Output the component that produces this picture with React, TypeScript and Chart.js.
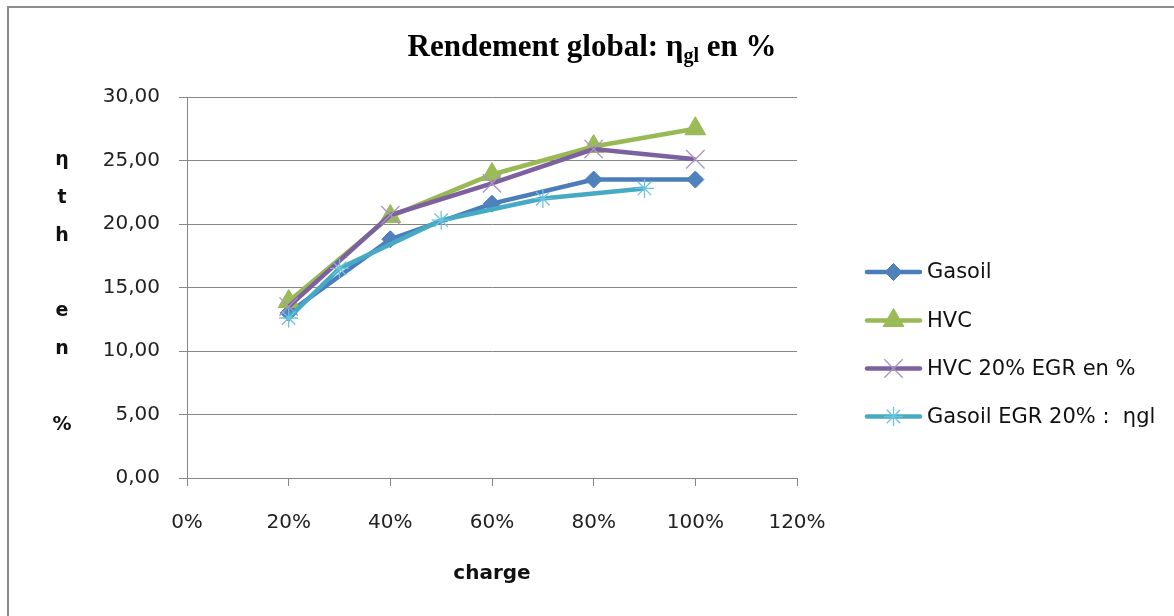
import React, { useEffect, useRef } from 'react';
import { Chart, registerables } from 'chart.js';

Chart.register(...registerables);

// ---- data ----
const chargeMain = [20, 40, 60, 80, 100];
const chargeEgr = [20, 30, 50, 70, 90];
const gasoil = [13.0, 18.8, 21.6, 23.5, 23.5];
const hvc = [13.9, 20.6, 23.9, 26.1, 27.5];
const hvcEgr = [13.5, 20.7, 23.2, 25.9, 25.1];
const gasoilEgr = [12.6, 16.5, 20.3, 22.0, 22.8];

const seriesNames = ['Gasoil', 'HVC', 'HVC 20% EGR en %', 'Gasoil EGR 20% :  ηgl'];
const lineColors = ['#4A7EBB', '#98B954', '#7D60A0', '#46AAC5'];
const markerFill = ['#4F81BD', '#9BBB59', 'rgba(0,0,0,0)', 'rgba(0,0,0,0)'];
const markerStroke = ['#4A7EBB', '#98B954', '#A994C6', '#6CC4DC'];
const markerStyles = ['rectRot', 'triangle', 'crossRot', 'star'];
const markerRadius = [8.5, 12, 13, 9.5];
const markerBorder = [1, 1, 1.3, 1.3];

const titleMain = 'Rendement global: η';
const titleSub = 'gl';
const titleEnd = ' en %';
const xTitle = 'charge';
const yTitleChars = ['η', 't', 'h', '', 'e', 'n', '', '%'];

const X_MIN = 0, X_MAX = 120, X_STEP = 20;
const Y_MIN = 0, Y_MAX = 30, Y_STEP = 5;

const TICK_FONT = 'DejaVu Sans';
const W = 1174, H = 616;

function toPoints(xs: number[], ys: number[]) {
  return xs.map((x, i) => ({ x, y: ys[i] }));
}

function drawMarker(ctx: CanvasRenderingContext2D, style: string, x: number, y: number, r: number, fill: string, stroke: string, lw: number) {
  ctx.save();
  ctx.beginPath();
  ctx.lineWidth = lw;
  ctx.strokeStyle = stroke;
  ctx.fillStyle = fill;
  if (style === 'rectRot') {
    ctx.moveTo(x - r, y); ctx.lineTo(x, y - r); ctx.lineTo(x + r, y); ctx.lineTo(x, y + r); ctx.closePath();
    ctx.fill(); ctx.stroke();
  } else if (style === 'triangle') {
    for (let k = 0; k < 3; k++) {
      const a = (k * 2 * Math.PI) / 3;
      const px = x + Math.sin(a) * r, py = y - Math.cos(a) * r;
      if (k === 0) ctx.moveTo(px, py); else ctx.lineTo(px, py);
    }
    ctx.closePath(); ctx.fill(); ctx.stroke();
  } else if (style === 'crossRot') {
    const o = r * Math.SQRT1_2;
    ctx.moveTo(x - o, y - o); ctx.lineTo(x + o, y + o);
    ctx.moveTo(x - o, y + o); ctx.lineTo(x + o, y - o);
    ctx.stroke();
  } else if (style === 'star') {
    const o = r * Math.SQRT1_2;
    ctx.moveTo(x, y - r); ctx.lineTo(x, y + r);
    ctx.moveTo(x - r, y); ctx.lineTo(x + r, y);
    ctx.moveTo(x - o, y - o); ctx.lineTo(x + o, y + o);
    ctx.moveTo(x - o, y + o); ctx.lineTo(x + o, y - o);
    ctx.stroke();
  }
  ctx.restore();
}

const framePlugin = {
  id: 'framePlugin',
  beforeDraw(chart: any) {
    const ctx: CanvasRenderingContext2D = chart.ctx;
    ctx.save();
    ctx.fillStyle = '#fff';
    ctx.fillRect(0, 0, chart.width, chart.height);
    ctx.fillStyle = '#8c8c8c';
    ctx.fillRect(7, 6, chart.width - 7, 2);
    ctx.fillRect(7, 6, 2, chart.height - 6);
    ctx.restore();
  },
};

const textPlugin = {
  id: 'textPlugin',
  afterDraw(chart: any) {
    const ctx: CanvasRenderingContext2D = chart.ctx;
    const area = chart.chartArea;
    ctx.save();
    ctx.fillStyle = '#000';
    // main title with subscript
    const mainFont = 'bold 31px "Liberation Serif"';
    const subFont = 'bold 20px "Liberation Serif"';
    ctx.font = mainFont;
    const w1 = ctx.measureText(titleMain).width;
    const w3 = ctx.measureText(titleEnd).width;
    ctx.font = subFont;
    const w2 = ctx.measureText(titleSub).width;
    const total = w1 + w2 + w3;
    const cx = 592;
    let tx = cx - total / 2;
    const baseY = 56;
    ctx.textBaseline = 'alphabetic';
    ctx.textAlign = 'left';
    ctx.font = mainFont;
    ctx.fillText(titleMain, tx, baseY);
    tx += w1;
    ctx.font = subFont;
    ctx.fillText(titleSub, tx, baseY + 6);
    tx += w2;
    ctx.font = mainFont;
    ctx.fillText(titleEnd, tx, baseY);

    // y title: stacked letters
    ctx.font = 'bold 19px "DejaVu Sans"';
    ctx.textAlign = 'center';
    ctx.textBaseline = 'middle';
    ctx.fillStyle = '#111';
    yTitleChars.forEach((c, i) => {
      if (c) ctx.fillText(c, 62, 160 + i * 37.8);
    });

    // x title
    ctx.font = 'bold 20px "DejaVu Sans"';
    ctx.textBaseline = 'alphabetic';
    ctx.fillText(xTitle, (area.left + area.right) / 2, 579);

    // legend
    const lx0 = 867, lx1 = 920, tx0 = 927;
    const rows = [272, 320.5, 368.5, 416.5];
    ctx.font = '21px "DejaVu Sans"';
    ctx.textAlign = 'left';
    ctx.textBaseline = 'middle';
    seriesNames.forEach((name, i) => {
      const y = rows[i];
      ctx.save();
      ctx.strokeStyle = lineColors[i];
      ctx.lineWidth = 4.5;
      ctx.lineCap = 'round';
      ctx.beginPath();
      ctx.moveTo(lx0, y);
      ctx.lineTo(lx1, y);
      ctx.stroke();
      ctx.restore();
      drawMarker(ctx, markerStyles[i], (lx0 + lx1) / 2, y, markerRadius[i], markerFill[i], markerStroke[i], markerBorder[i]);
      ctx.fillStyle = '#111';
      ctx.fillText(name, tx0, y + 1);
    });
    ctx.restore();
  },
};

export default function App() {
  const ref = useRef<HTMLCanvasElement | null>(null);
  useEffect(() => {
    if (!ref.current) return;
    const xsList = [chargeMain, chargeMain, chargeMain, chargeEgr];
    const ysList = [gasoil, hvc, hvcEgr, gasoilEgr];
    const datasets = seriesNames.map((name, i) => ({
      label: name,
      data: toPoints(xsList[i], ysList[i]),
      borderColor: lineColors[i],
      backgroundColor: lineColors[i],
      borderWidth: 4.5,
      tension: 0,
      fill: false,
      pointStyle: markerStyles[i],
      pointRadius: markerRadius[i],
      pointHoverRadius: markerRadius[i],
      pointBackgroundColor: markerFill[i],
      pointBorderColor: markerStroke[i],
      pointBorderWidth: markerBorder[i],
      order: 4 - i,
    }));
    const chart = new Chart(ref.current, {
      type: 'line',
      data: { datasets },
      options: {
        animation: false,
        responsive: false,
        events: [],
        layout: { padding: { left: 0, right: W - 797, top: 97, bottom: 0 } },
        plugins: {
          legend: { display: false },
          title: { display: false },
          tooltip: { enabled: false },
        },
        scales: {
          x: {
            type: 'linear',
            min: X_MIN,
            max: X_MAX,
            afterFit: (s: any) => { s.height = H - 478; },
            ticks: {
              stepSize: X_STEP,
              padding: 25,
              color: '#222',
              font: { family: TICK_FONT, size: 20 },
              callback: (v: any) => `${v}%`,
            },
            grid: {
              display: true,
              drawOnChartArea: false,
              drawTicks: true,
              tickLength: 8,
              color: '#868686',
            },
            border: { display: true, color: '#868686', width: 1 },
          },
          y: {
            type: 'linear',
            min: Y_MIN,
            max: Y_MAX,
            afterFit: (s: any) => { s.width = 187; },
            ticks: {
              stepSize: Y_STEP,
              padding: 19,
              color: '#222',
              font: { family: TICK_FONT, size: 20 },
              callback: (v: any) => Number(v).toFixed(2).replace('.', ','),
            },
            grid: {
              display: true,
              drawOnChartArea: true,
              drawTicks: true,
              tickLength: 8,
              color: '#868686',
            },
            border: { display: true, color: '#868686', width: 1 },
          },
        },
      },
      plugins: [framePlugin, textPlugin],
    });
    return () => chart.destroy();
  }, []);

  return (
    <div style={{ position: 'fixed', left: 0, top: 0, width: W, height: H, overflow: 'hidden', background: '#fff' }}>
      <canvas ref={ref} width={W} height={H} style={{ display: 'block' }} />
    </div>
  );
}
